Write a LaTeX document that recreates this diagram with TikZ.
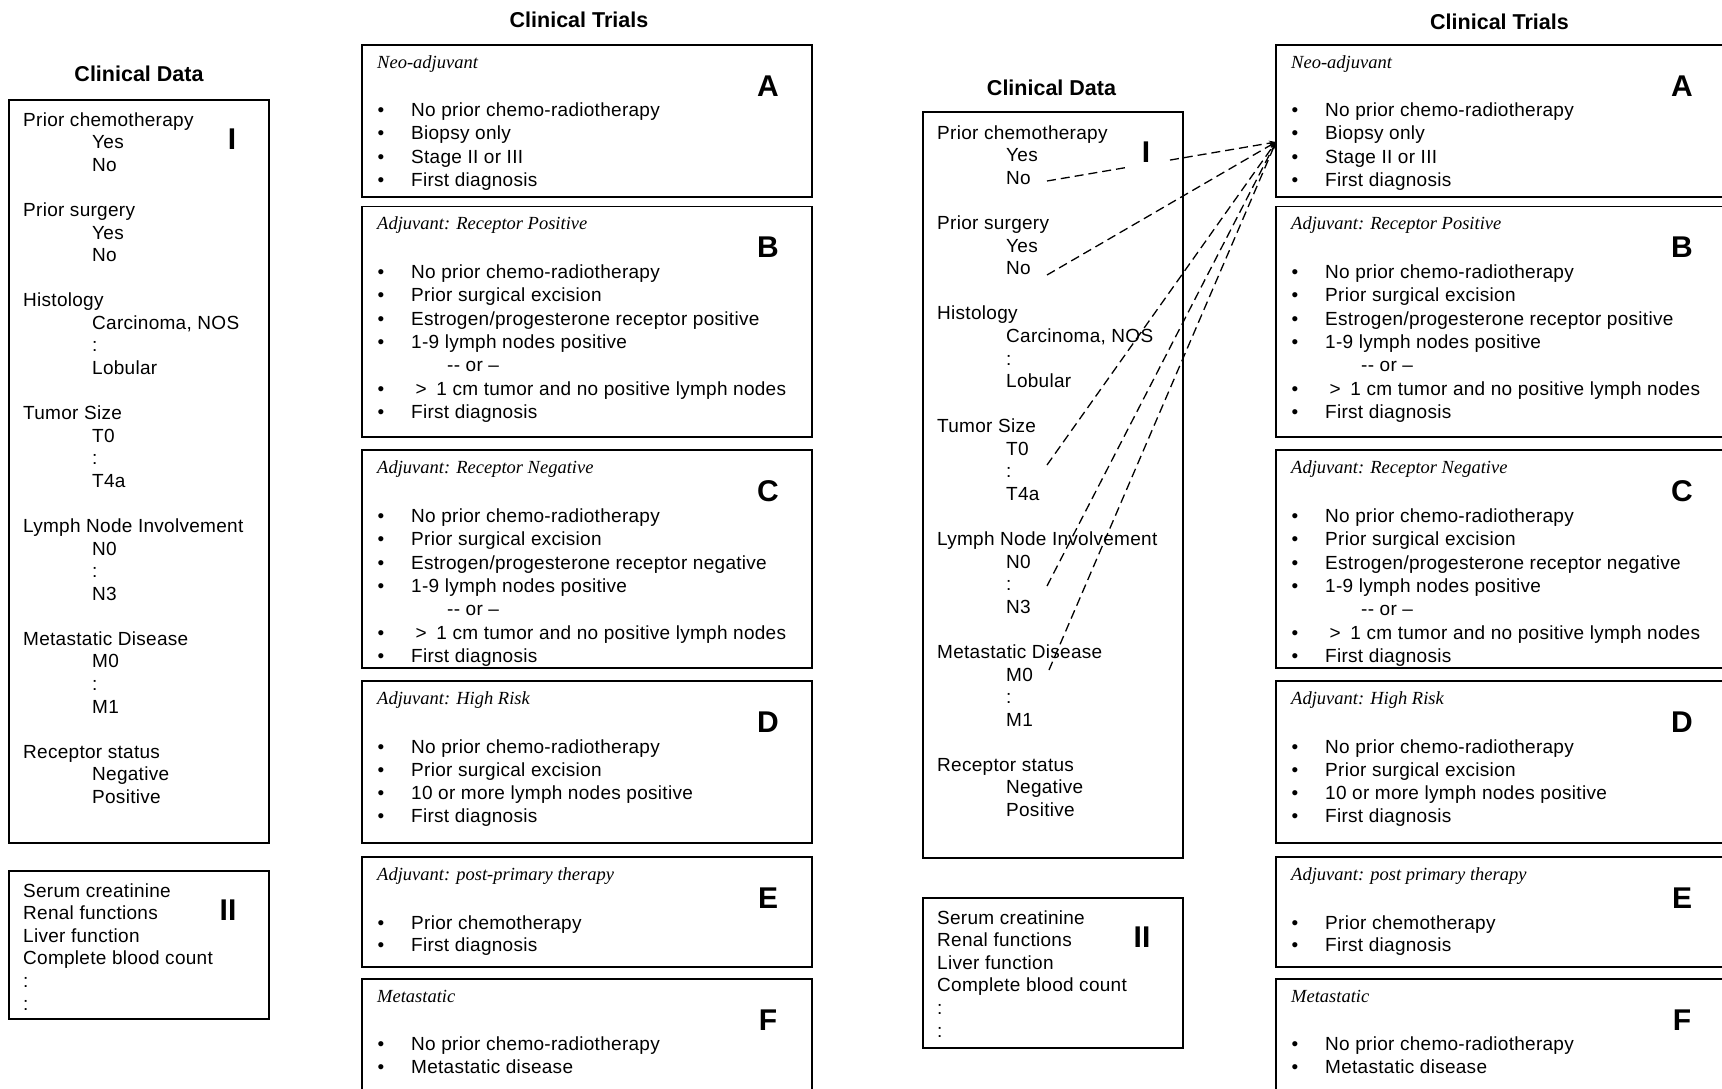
\documentclass[tikz,border=0pt]{standalone}
\usepackage{fontspec}
\setmainfont[LetterSpace=1.5]{Liberation Sans}
\newfontfamily\boldfam{Liberation Sans}
\newfontfamily\serifit{Liberation Serif}
\usetikzlibrary{arrows.meta,calc}

\newcommand\boxnode[5]{%
  \pgfmathsetmacro\bw{(#4)-(#2)}%
  \pgfmathsetmacro\bh{(#5)-(#3)}%
  \node[box, minimum width=\bw pt, minimum height=\bh pt] (#1) at ({#2},{#3}) {};}

\newcommand\trial[7]{% name, xl, top, xr, bot, heading, letter
  \boxnode{#1}{#2}{#3}{#4}{#5}
  \node[hd] (#1-h) at ({#2+15},{#3+23}) {#6};
  \node[big] (#1-l) at ({#2+406},{#3+41}) {#7};
}
\newcommand\bitem[4]{% name, xl, y centre, text
  \node[bul] (#1-b) at ({#2+19},{#3+6.5}) {•};
  \node[dtext] (#1) at ({#2+49},{#3+6.5}) {#4};
}
\newcommand\gtline{\hspace{4.4pt}>\hspace{4.2pt} 1 cm tumor and no positive lymph nodes}

\newcommand\datapanel[9]{% prefix, xoff, title x, title y, box top, box bottom, first line, II top, II bottom
  \node[ttl] (#1-title) at ({#3},{#4}) {Clinical Data};
  \boxnode{#1-I}{#2+8.8}{#5}{#2+269}{#6}
  \foreach \i/\xx/\t/\nm in {0/0/Prior chemotherapy/pc, 1/69/Yes/pcy, 2/69/No/pcn,
      4/0/Prior surgery/ps, 5/69/Yes/psy, 6/69/No/psn,
      8/0/Histology/hi, 9/69/{Carcinoma, NOS}/hic, 10/69/:/hid, 11/69/Lobular/hil,
      13/0/Tumor Size/ts, 14/69/T0/t0, 15/69/:/td, 16/69/T4a/t4,
      18/0/Lymph Node Involvement/ln, 19/69/N0/n0, 20/69/:/nd, 21/69/N3/n3,
      23/0/Metastatic Disease/md, 24/69/M0/m0, 25/69/:/mdd, 26/69/M1/m1,
      28/0/Receptor status/rs, 29/69/Negative/rsn, 30/69/Positive/rsp}
    {\node[dtext] (#1-\nm) at ({#2+23+\xx},{#7+\i*22.57+6.5}) {\t};}
  \node[big] (#1-one) at ({#2+232},{#7+19.5}) {I};
  \boxnode{#1-II}{#2+8.8}{#8}{#2+269}{#9}
  \foreach \i/\t/\nm in {0/Serum creatinine/sc, 1/Renal functions/rf, 2/Liver function/lf,
      3/Complete blood count/cbc, 4/:/da, 5/:/db}
    {\node[dtext] (#1-\nm) at ({#2+23},{#8+19.6+\i*22.6+6.5}) {\t};}
  \node[big] (#1-two) at ({#2+228},{#8+39.5}) {II};
}

\newcommand\trialpanel[5]{% prefix, xl, E heading, title x, title y
  \node[ttl] (#1-title) at ({#4},{#5}) {Clinical Trials};
  \trial{#1A}{#2}{45}{#2+450}{197}{Neo-adjuvant}{A}
  \bitem{#1A1}{#2}{110}{No prior chemo-radiotherapy}
  \bitem{#1A2}{#2}{133.3}{Biopsy only}
  \bitem{#1A3}{#2}{156.6}{Stage II or III}
  \bitem{#1A4}{#2}{180}{First diagnosis}
  \trial{#1B}{#2}{206.5}{#2+450}{437}{Adjuvant: Receptor Positive}{B}
  \bitem{#1B1}{#2}{272}{No prior chemo-radiotherapy}
  \bitem{#1B2}{#2}{295.3}{Prior surgical excision}
  \bitem{#1B3}{#2}{318.6}{Estrogen/progesterone receptor positive}
  \bitem{#1B4}{#2}{342}{1-9 lymph nodes positive}
  \node[dtext] (#1B-or) at ({#2+85},{365.3+6.5}) {-{}- or –};
  \bitem{#1B5}{#2}{388.6}{\gtline}
  \bitem{#1B6}{#2}{412}{First diagnosis}
  \trial{#1C}{#2}{450}{#2+450}{668}{Adjuvant: Receptor Negative}{C}
  \bitem{#1C1}{#2}{516}{No prior chemo-radiotherapy}
  \bitem{#1C2}{#2}{539.3}{Prior surgical excision}
  \bitem{#1C3}{#2}{562.6}{Estrogen/progesterone receptor negative}
  \bitem{#1C4}{#2}{586}{1-9 lymph nodes positive}
  \node[dtext] (#1C-or) at ({#2+85},{609.3+6.5}) {-{}- or –};
  \bitem{#1C5}{#2}{632.6}{\gtline}
  \bitem{#1C6}{#2}{656}{First diagnosis}
  \trial{#1D}{#2}{681}{#2+450}{843}{Adjuvant: High Risk}{D}
  \bitem{#1D1}{#2}{746.5}{No prior chemo-radiotherapy}
  \bitem{#1D2}{#2}{769.8}{Prior surgical excision}
  \bitem{#1D3}{#2}{793}{10 or more lymph nodes positive}
  \bitem{#1D4}{#2}{816.4}{First diagnosis}
  \trial{#1E}{#2}{857}{#2+450}{967}{#3}{E}
  \bitem{#1E1}{#2}{922.5}{Prior chemotherapy}
  \bitem{#1E2}{#2}{945}{First diagnosis}
  \trial{#1F}{#2}{979}{#2+450}{1110}{Metastatic}{F}
  \bitem{#1F1}{#2}{1043.5}{No prior chemo-radiotherapy}
  \bitem{#1F2}{#2}{1066.5}{Metastatic disease}
}

\begin{document}
\begin{tikzpicture}[x=1pt,y=-1pt,
  box/.style={draw, line width=1.5pt, anchor=north west, inner sep=0pt, outer sep=0pt},
  dtext/.style={inner sep=0pt, anchor=base west, font=\fontsize{19}{22}\selectfont},
  bul/.style={inner sep=0pt, anchor=base, font=\fontsize{19}{22}\selectfont},
  ttl/.style={inner sep=0pt, font=\fontsize{21.5}{25}\selectfont\boldfam\bfseries},
  big/.style={inner sep=0pt, font=\fontsize{30}{34}\selectfont\boldfam\bfseries},
  hd/.style={inner sep=0pt, anchor=base west, font=\fontsize{18.5}{22}\selectfont\serifit\itshape},
  conn/.style={line width=1.3pt, dash pattern=on 9pt off 5pt, -{Stealth[length=7pt,width=5pt]}}]
\useasboundingbox (0,0) rectangle (1722,1088);
\clip (0,0) rectangle (1722,1088);

% left figure
\datapanel{L}{0}{139}{73.6}{100}{843}{119.7}{871}{1019}
\trialpanel{L}{362}{Adjuvant: post-primary therapy}{579}{19.5}

% right figure
\datapanel{R}{914}{1051.5}{88}{112}{858}{132.9}{898}{1048}
\trialpanel{R}{1276}{Adjuvant: post primary therapy}{1499.5}{21.5}

% connectors
\coordinate (tgt) at ($(RA.north west)+(0,97)$);
\coordinate (s1) at (1047,181);
\coordinate (s2) at (1047,275);
\coordinate (s3) at (1047,465);
\coordinate (s4) at (1047,586);
\coordinate (s5) at (1049,670);
\draw[conn,-] (s1) -- ($(s1)!0.354!(tgt)$);
\draw[conn] ($(s1)!0.537!(tgt)$) -- (tgt);
\draw[conn] (s2) -- (tgt);
\draw[conn] (s3) -- (tgt);
\draw[conn] (s4) -- (tgt);
\draw[conn] (s5) -- (tgt);
\end{tikzpicture}
\end{document}
